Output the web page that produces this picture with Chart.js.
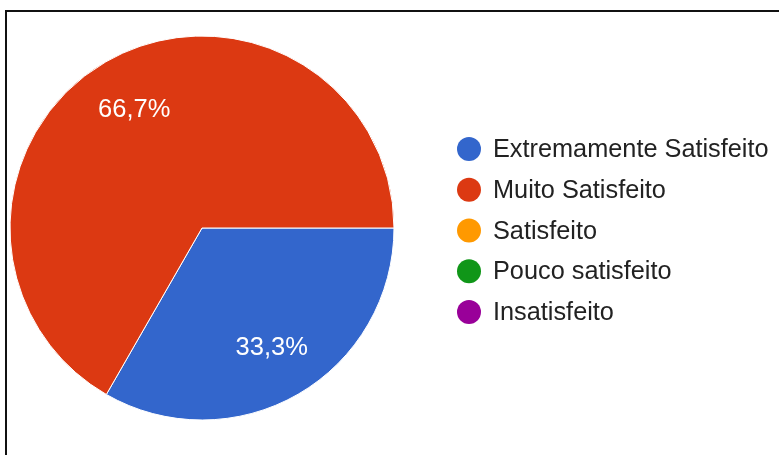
<!DOCTYPE html>
<html>
<head>
<meta charset="utf-8">
<script src="https://cdn.jsdelivr.net/npm/chart.js@4/dist/chart.umd.min.js"></script>
<style>
  html, body { margin: 0; padding: 0; background: #ffffff; }
  #wrap { position: relative; width: 779px; height: 455px; overflow: hidden; }
  #frameTop { position: absolute; left: 5px; top: 10px; width: 774px; height: 2px; background: #111; }
  #frameLeft { position: absolute; left: 5px; top: 10px; width: 2px; height: 445px; background: #111; }
  canvas { position: absolute; left: 0; top: 0; }
</style>
</head>
<body>
<div id="wrap">
  <canvas id="chart" width="779" height="455"></canvas>
  <div id="frameTop"></div>
  <div id="frameLeft"></div>
</div>
<script>
// Satisfaction categories and their share of answers (percent)
const categories = [
  'Extremamente Satisfeito',
  'Muito Satisfeito',
  'Satisfeito',
  'Pouco satisfeito',
  'Insatisfeito'
];
const shares = [33.3, 66.7, 0, 0, 0];
const sliceColors = ['#3366cc', '#dc3912', '#ff9900', '#109618', '#990099'];

const FONT = '"Liberation Sans", Arial, sans-serif';

function fmtPercent(v) {
  return v.toFixed(1).replace('.', ',') + '%';
}

// Percentage text inside each non-empty slice
const sliceLabels = {
  id: 'sliceLabels',
  afterDatasetsDraw(chart) {
    const ctx = chart.ctx;
    const meta = chart.getDatasetMeta(0);
    const values = chart.data.datasets[0].data;
    ctx.save();
    ctx.fillStyle = '#ffffff';
    ctx.font = '25.5px ' + FONT;
    ctx.textAlign = 'center';
    ctx.textBaseline = 'middle';
    meta.data.forEach((arc, i) => {
      if (!values[i]) return;
      const p = arc.getProps(['x', 'y', 'startAngle', 'endAngle', 'outerRadius'], true);
      const mid = (p.startAngle + p.endAngle) / 2;
      const r = p.outerRadius * 0.715;
      ctx.fillText(fmtPercent(values[i]), p.x + Math.cos(mid) * r + 1, p.y + Math.sin(mid) * r + 1);
    });
    ctx.restore();
  }
};

// Legend on the right: coloured dot followed by the category name
const sideLegend = {
  id: 'sideLegend',
  afterDraw(chart) {
    const ctx = chart.ctx;
    const labels = chart.data.labels;
    const colors = chart.data.datasets[0].backgroundColor;
    const dotX = 469, firstY = 149, step = 40.75, dotR = 12, textX = 493;
    ctx.save();
    ctx.font = '25.3px ' + FONT;
    ctx.textAlign = 'left';
    ctx.textBaseline = 'alphabetic';
    labels.forEach((label, i) => {
      const y = firstY + i * step;
      ctx.beginPath();
      ctx.arc(dotX, y, dotR, 0, Math.PI * 2);
      ctx.fillStyle = colors[i];
      ctx.fill();
      ctx.fillStyle = '#222222';
      ctx.fillText(label, textX, y + 8);
    });
    ctx.restore();
  }
};

new Chart(document.getElementById('chart'), {
  type: 'pie',
  data: {
    labels: categories,
    datasets: [{
      data: shares,
      backgroundColor: sliceColors,
      borderColor: '#ffffff',
      borderWidth: 1
    }]
  },
  options: {
    responsive: false,
    animation: false,
    devicePixelRatio: 1,
    rotation: 90,
    radius: 192,
    layout: { padding: { left: 10, top: 36, right: 385, bottom: 35 } },
    plugins: {
      legend: { display: false },
      tooltip: { enabled: false }
    }
  },
  plugins: [sliceLabels, sideLegend]
});
</script>
</body>
</html>
